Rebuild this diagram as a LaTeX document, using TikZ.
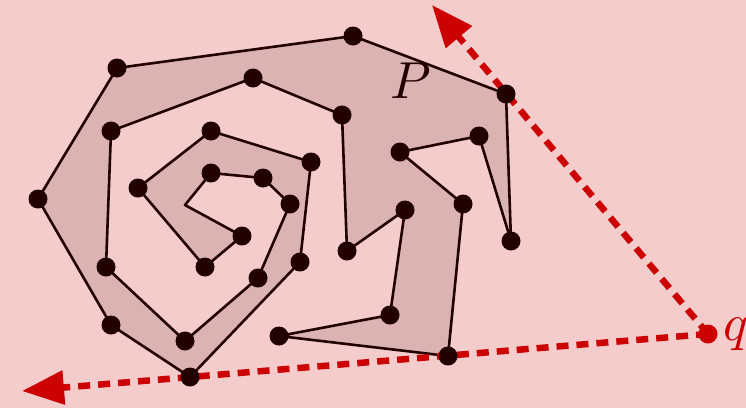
\documentclass[tikz,border=0pt]{standalone}
\usetikzlibrary{arrows.meta}
\definecolor{bgpink}{HTML}{F4CCCC}
\definecolor{polyfill}{HTML}{DBB3B3}
\definecolor{darkline}{HTML}{220000}
\definecolor{redq}{HTML}{CC0000}
\tikzset{
  poly/.style={fill=polyfill, draw=darkline, line width=2.6pt, line join=round},
  vdot/.style={circle, fill=darkline, minimum size=19pt, inner sep=0pt},
  qdot/.style={circle, fill=redq, minimum size=19pt, inner sep=0pt},
  ray/.style={draw=redq, line width=6.5pt, dash pattern=on 12pt off 8pt,
    -{Triangle[length=42pt,width=33pt]}},
  biglabel/.style={inner sep=0pt, scale=5.2}
}
\begin{document}
\begin{tikzpicture}[x=1pt,y=-1pt]
\fill[bgpink] (0,0) rectangle (746,408);
\useasboundingbox (0,0) rectangle (746,408);
% polygon vertices
\coordinate (A) at (353,36);
\coordinate (B) at (506,94);
\coordinate (C) at (511,241);
\coordinate (D) at (479,136);
\coordinate (E) at (400,152);
\coordinate (F) at (463,204);
\coordinate (G) at (448,356);
\coordinate (H) at (279,336);
\coordinate (I) at (390,315);
\coordinate (J) at (405,210);
\coordinate (K) at (347,251);
\coordinate (L) at (342,115);
\coordinate (M) at (253,78);
\coordinate (N) at (111,131);
\coordinate (O) at (106,267);
\coordinate (P) at (185,341);
\coordinate (Q) at (258,278);
\coordinate (R) at (290,204);
\coordinate (S) at (263,178);
\coordinate (T) at (211,173);
\coordinate (U) at (185,205);
\coordinate (V) at (242,236);
\coordinate (W) at (205,267);
\coordinate (X) at (138,188);
\coordinate (Y) at (211,131);
\coordinate (Z) at (311,162);
\coordinate (AA) at (300,262);
\coordinate (BB) at (190,377);
\coordinate (CC) at (111,325);
\coordinate (DD) at (38,199);
\coordinate (EE) at (117,68);
\coordinate (q) at (708,334);
\coordinate (end1) at (22,391);
\coordinate (end2) at (432,5);
% polygon
\draw[poly] (A) -- (B) -- (C) -- (D) -- (E) -- (F) -- (G) -- (H) -- (I) -- (J)
  -- (K) -- (L) -- (M) -- (N) -- (O) -- (P) -- (Q) -- (R) -- (S) -- (T) -- (U)
  -- (V) -- (W) -- (X) -- (Y) -- (Z) -- (AA) -- (BB) -- (CC) -- (DD) -- (EE) -- cycle;
% rays
\draw[ray] (q) -- (end1);
\draw[ray] (q) -- (end2);
% vertex dots
\foreach \v in {A,B,C,D,E,F,G,H,I,J,K,L,M,N,O,P,Q,R,S,T,V,W,X,Y,Z,AA,BB,CC,DD,EE}
  \node[vdot] (dot\v) at (\v) {};
\node[qdot] (qnode) at (q) {};
% labels
\node[biglabel, text=darkline] (labelP) at (411,81) {$P$};
\node[biglabel, text=redq] (labelq) at (736,334) {$q$};
\end{tikzpicture}
\end{document}
